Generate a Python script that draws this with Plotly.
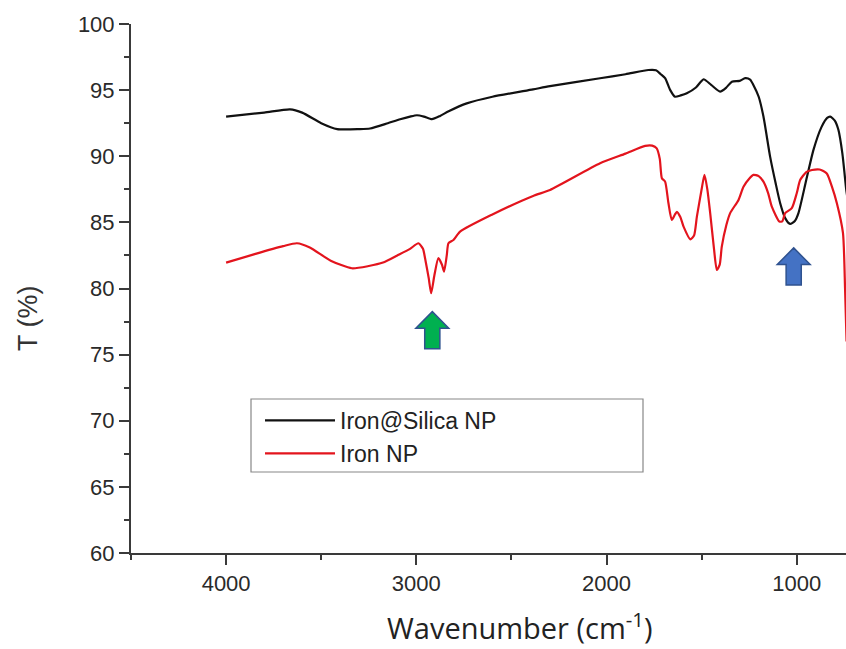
import plotly.graph_objects as go

# ---------------- data ----------------
silica_wn = [4000, 3800, 3664, 3600, 3500, 3416, 3300, 3243, 3150, 3085, 3033, 2997, 2960, 2918,
             2875, 2830, 2735, 2600, 2386, 2297, 2034, 1900, 1780, 1740, 1715, 1692, 1665, 1640,
             1610, 1578, 1530, 1490, 1450, 1403, 1370, 1341, 1300, 1271, 1245, 1228, 1200, 1175,
             1140, 1110, 1087, 1060, 1035, 1010, 991, 950, 912, 870, 840, 824, 800, 781, 760, 740, 735]
silica_T = [93.0, 93.3, 93.55, 93.3, 92.5, 92.05, 92.05, 92.1, 92.5, 92.8, 93.0, 93.1, 93.0, 92.8,
            93.05, 93.4, 94.0, 94.5, 95.06, 95.3, 95.9, 96.2, 96.52, 96.5, 96.2, 95.9, 95.0, 94.5,
            94.6, 94.76, 95.2, 95.82, 95.4, 94.89, 95.2, 95.64, 95.7, 95.9, 95.8, 95.39, 94.5, 93.0,
            89.97, 87.9, 86.45, 85.3, 84.88, 85.1, 85.7, 88.2, 90.48, 92.2, 92.9, 93.0, 92.7, 92.0, 90.2, 87.5, 87.0]

iron_wn = [4000, 3850, 3700, 3628, 3560, 3450, 3339, 3250, 3175, 3100, 3033, 2989, 2965, 2954, 2935,
           2922, 2905, 2884, 2865, 2854, 2840, 2831, 2805, 2770, 2600, 2386, 2297, 2034, 1900, 1797,
           1760, 1736, 1720, 1709, 1692, 1675, 1657, 1640, 1630, 1612, 1595, 1560, 1540, 1525, 1500,
           1485, 1470, 1455, 1435, 1420, 1405, 1394, 1370, 1350, 1306, 1280, 1250, 1228, 1200, 1175,
           1150, 1131, 1091, 1075, 1061, 1026, 1000, 982, 950, 920, 880, 842, 815, 789, 757, 746, 738]
iron_T = [81.96, 82.6, 83.2, 83.42, 83.1, 82.1, 81.53, 81.7, 81.96, 82.5, 83.0, 83.42, 83.0, 82.29, 80.8,
          79.64, 81.0, 82.29, 81.8, 81.28, 82.5, 83.42, 83.67, 84.3, 85.6, 87.0, 87.45, 89.47, 90.2, 90.78,
          90.8, 90.6, 89.8, 88.34, 88.08, 86.5, 85.18, 85.6, 85.8, 85.4, 84.68, 83.72, 84.0, 85.43, 87.5,
          88.6, 87.5, 85.7, 83.0, 81.4, 81.8, 83.17, 84.8, 85.7, 86.7, 87.7, 88.3, 88.59, 88.5, 88.08,
          87.2, 86.19, 85.06, 85.1, 85.7, 86.07, 87.2, 88.2, 88.8, 88.96, 89.0, 88.7, 87.7, 86.45, 84.2, 80.0, 76.0]

series_names = ["Iron@Silica NP", "Iron NP"]

# marker arrows: (wavenumber centre, T at tip, fill colour)
arrow_wn = [2916, 1016]
arrow_tip_T = [78.25, 83.07]
arrow_fill = ["#00B050", "#4472C4"]

x_range = [4500, 741]
y_range = [60, 100]

# ---------------- figure ----------------
fig = go.Figure()
fig.add_trace(go.Scatter(x=silica_wn, y=silica_T, mode="lines", name=series_names[0],
                         line=dict(color="#111111", width=2.2, shape="spline", smoothing=0.6)))
fig.add_trace(go.Scatter(x=iron_wn, y=iron_T, mode="lines", name=series_names[1],
                         line=dict(color="#E3141D", width=2.2, shape="spline", smoothing=0.6)))

W, H = 846, 649
L, R, T, B = 131, 0, 24, 96
pw, ph = W - L - R, H - T - B


def px(p):
    return (p - L) / pw


def py(q):
    return (H - B - q) / ph


# arrows as shapes in data coordinates
aw = 173.0   # head width (wavenumber units)
ah = 2.8     # total height (T units)
for wn, tip, col in zip(arrow_wn, arrow_tip_T, arrow_fill):
    hw = aw / 2
    sw = aw * 0.23
    head_h = ah * 0.45
    pts = [(wn, tip), (wn - hw, tip - head_h), (wn - sw, tip - head_h), (wn - sw, tip - ah),
           (wn + sw, tip - ah), (wn + sw, tip - head_h), (wn + hw, tip - head_h)]
    path = "M " + " L ".join(f"{a},{b}" for a, b in pts) + " Z"
    fig.add_shape(type="path", path=path, xref="x", yref="y", fillcolor=col,
                  line=dict(color="#2F528F", width=1.5), layer="above")

# legend frame
fig.add_shape(type="rect", xref="paper", yref="paper", x0=px(251), x1=px(643), y0=py(472), y1=py(399),
              line=dict(color="#888888", width=1.2), fillcolor="rgba(0,0,0,0)", layer="above")

axis_font = dict(family="Liberation Sans, Arial", size=22, color="#2a2a2a")
tick_col = "#3a3a3a"

fig.update_xaxes(range=x_range, showgrid=False, zeroline=False, showline=True, linecolor=tick_col,
                 linewidth=2, ticks="outside", ticklen=10, tickwidth=2, tickcolor=tick_col,
                 tickmode="linear", tick0=0, dtick=1000, tickfont=axis_font, ticklabelstandoff=0,
                 minor=dict(ticks="outside", ticklen=5, tickwidth=2, tickcolor=tick_col, dtick=500, tick0=0))
fig.update_yaxes(range=y_range, showgrid=False, zeroline=False, showline=True, linecolor=tick_col,
                 linewidth=2, ticks="outside", ticklen=10, tickwidth=2, tickcolor=tick_col,
                 tickmode="linear", tick0=60, dtick=5, tickfont=axis_font, ticklabelstandoff=0,
                 minor=dict(ticks="outside", ticklen=5, tickwidth=2, tickcolor=tick_col, dtick=2.5, tick0=60))

fig.add_annotation(text="T (%)", xref="paper", yref="paper", x=px(28), y=py(318), showarrow=False,
                   textangle=-90, font=dict(family="Liberation Sans, Arial", size=27, color="#333333"),
                   xanchor="center", yanchor="middle")
fig.add_annotation(text="Wavenumber (cm<sup>-1</sup>)", xref="paper", yref="paper", x=px(519), y=py(626),
                   showarrow=False, font=dict(family="Open Sans, Lato", size=29, color="#222222"),
                   xanchor="center", yanchor="middle")

fig.update_layout(
    width=W, height=H, margin=dict(l=L, r=R, t=T, b=B, pad=0),
    paper_bgcolor="white", plot_bgcolor="white",
    showlegend=True,
    legend=dict(x=px(260), y=py(399), xanchor="left", yanchor="top", bgcolor="rgba(0,0,0,0)",
                borderwidth=0, font=dict(family="Liberation Sans, Arial", size=23, color="#222222"),
                itemwidth=70, tracegroupgap=0),
)

fig.write_html("out.html")
